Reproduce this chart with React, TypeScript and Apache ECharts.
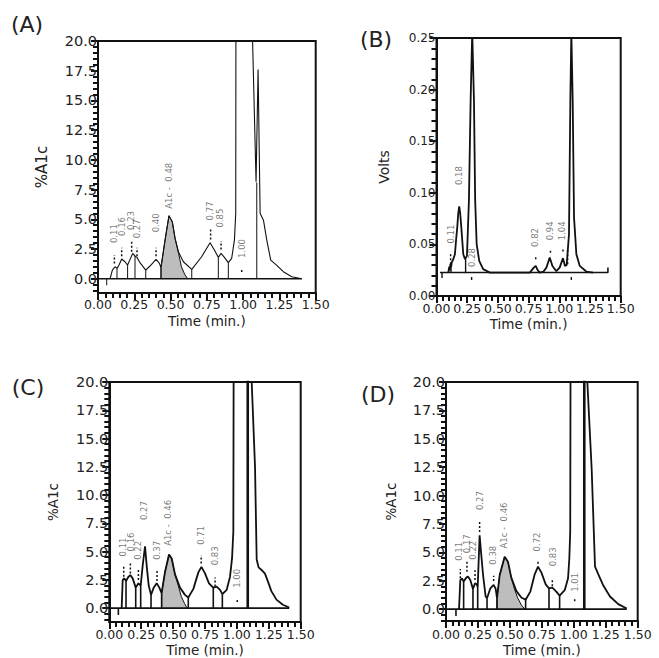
import React, { useEffect, useRef } from "react";
import * as echarts from "echarts";

const FONT = "DejaVu Sans";
const INK = "#111";
const LABEL_INK = "#555";

// ---------- axis ticks ----------
const X_TICKS = [0, 0.25, 0.5, 0.75, 1, 1.25, 1.5];
const PCT_TICKS = [0, 2.5, 5, 7.5, 10, 12.5, 15, 17.5, 20];
const PCT_MINOR = Array.from({ length: 43 }, (_, i) => Math.round((-1 + i * 0.5) * 10) / 10);
const VOLT_TICKS = [0, 0.05, 0.1, 0.15, 0.2, 0.25];
const VOLT_MINOR = Array.from({ length: 26 }, (_, i) => Math.round(i) / 100);

// ---------- Panel A (%A1c) ----------
const A_CURVE = [
  [0.083, 0], [0.099, 0.73], [0.117, 1.01], [0.131, 0.87], [0.145, 1.15], [0.163, 1.66], [0.186, 1.43],
  [0.204, 1.15], [0.221, 1.63], [0.239, 2.13], [0.255, 1.91], [0.268, 1.8], [0.289, 1.35], [0.329, 0.73],
  [0.358, 1.07], [0.4, 1.63], [0.423, 1.29], [0.434, 0.95], [0.462, 3.25], [0.489, 5.3], [0.512, 4.79],
  [0.531, 3.39], [0.554, 2.27], [0.588, 1.43], [0.646, 0.79], [0.714, 1.85], [0.772, 3.03], [0.802, 2.41],
  [0.829, 1.8], [0.848, 2.13], [0.871, 1.8], [0.898, 1.35], [0.921, 1.71], [0.94, 3.25], [0.949, 5.5],
  [0.951, 30], [1.045, 30], [1.089, 8.15], [1.103, 17.6], [1.107, 17.6], [1.117, 5.5], [1.14, 4.93],
  [1.163, 3.25], [1.19, 1.57], [1.23, 1.15], [1.277, 0.59], [1.335, 0.17], [1.404, 0],
];
const A_BASE = [[0, 0], [1.404, 0]];
const A_SHADE = [
  [0.434, 0], [0.434, 0.95], [0.462, 3.25], [0.489, 5.3], [0.512, 4.79], [0.531, 3.39], [0.554, 2.2],
  [0.575, 1.0], [0.598, 0.35], [0.618, 0],
];
const A_DROPS = [
  [0.06, 0, -0.55], [0.131, 0, 0.87], [0.204, 0, 1.15], [0.255, 0, 1.91], [0.329, 0, 0.73], [0.434, 0, 0.95],
  [0.646, 0, 0.79], [0.829, 0, 1.8], [0.898, 0, 1.35], [1.094, 0, 8.1],
];
const A_MARKS = [
  [0.113, 1.29, 1.99], [0.163, 1.9, 2.6], [0.232, 2.27, 3.17], [0.269, 1.9, 2.6], [0.4, 1.9, 2.6],
  [0.776, 3.31, 4.15], [0.848, 2.47, 3.17], [0.99, 0.56, 0.78],
];
const A_LABELS: [number, number, string][] = [
  [0.108, 3.8, "0.11"], [0.163, 4.4, "0.16"], [0.227, 4.9, "0.23"], [0.27, 4.2, "0.27"], [0.398, 4.7, "0.40"],
  [0.489, 7.82, "A1c -  0.48"], [0.772, 5.7, "0.77"], [0.843, 5.1, "0.85"], [0.994, 2.55, "1.00"],
];

// ---------- Panel B (Volts) ----------
const B_CURVE = [
  [0.096, 0.0227], [0.104, 0.0285], [0.108, 0.0245], [0.113, 0.031], [0.118, 0.0275], [0.125, 0.033],
  [0.135, 0.035], [0.15, 0.0405], [0.16, 0.055], [0.169, 0.0665], [0.177, 0.08], [0.185, 0.0869],
  [0.193, 0.08], [0.202, 0.0665], [0.218, 0.0405], [0.232, 0.0357], [0.248, 0.0389], [0.264, 0.0924],
  [0.278, 0.19], [0.291, 0.256], [0.305, 0.19], [0.315, 0.0924], [0.327, 0.0503], [0.348, 0.034],
  [0.38, 0.026], [0.435, 0.0227], [0.76, 0.0227], [0.792, 0.0275], [0.808, 0.0292], [0.824, 0.025],
  [0.841, 0.0227], [0.87, 0.0235], [0.895, 0.0275], [0.922, 0.0373], [0.944, 0.029], [0.976, 0.024],
  [1.003, 0.0275], [1.03, 0.0367], [1.046, 0.029], [1.06, 0.03], [1.079, 0.06], [1.09, 0.19],
  [1.098, 0.256], [1.109, 0.19], [1.12, 0.076], [1.139, 0.0405], [1.166, 0.0292], [1.22, 0.0237],
  [1.274, 0.0227],
];
const B_BASE = [[0.028, 0.0227], [1.396, 0.0227], [1.396, 0.0275]];
const B_DROPS = [
  [0.045, 0.0227, 0.0175], [0.118, 0.0227, 0.0275], [0.237, 0.0227, 0.036], [0.286, 0.0183, 0.0155],
  [1.098, 0.0183, 0.0155],
];
const B_MARKS = [
  [0.115, 0.0308, 0.0405], [0.808, 0.0357, 0.038], [0.928, 0.0418, 0.0444], [1.03, 0.0431, 0.0457],
  [1.068, 0.0308, 0.0444],
];
const B_LABELS: [number, number, string][] = [
  [0.118, 0.06, "0.11"], [0.185, 0.1167, "0.18"], [0.286, 0.0373, "0.28"], [0.806, 0.0567, "0.82"],
  [0.922, 0.0632, "0.94"], [1.022, 0.0632, "1.04"],
];

// ---------- Panel C (%A1c) ----------
const C_CURVE = [
  [0.097, 0], [0.105, 2.48], [0.117, 2.63], [0.131, 2.4], [0.149, 2.75], [0.165, 2.92], [0.183, 2.63],
  [0.207, 1.81], [0.228, 2.19], [0.246, 1.99], [0.262, 3.8], [0.28, 5.47], [0.295, 3.51], [0.309, 1.99],
  [0.327, 1.17], [0.348, 1.81], [0.371, 2.19], [0.392, 1.81], [0.41, 1.32], [0.437, 3.22], [0.468, 4.74],
  [0.489, 4.39], [0.515, 2.98], [0.554, 1.81], [0.593, 1.17], [0.619, 0.94], [0.659, 1.7], [0.698, 3.16],
  [0.722, 3.65], [0.75, 3.07], [0.781, 2.19], [0.815, 1.81], [0.841, 1.9], [0.868, 1.61], [0.886, 1.23],
  [0.92, 1.61], [0.946, 2.78], [0.962, 4.39], [0.972, 6.73], [0.976, 30], [1.1, 40], [1.116, 20],
  [1.142, 12.5], [1.155, 4.3], [1.17, 3.6], [1.2, 3.3], [1.22, 3.05], [1.245, 2.3], [1.27, 1.5],
  [1.31, 0.75], [1.36, 0.3], [1.41, 0.05],
];
const C_BASE = [[0, 0], [1.41, 0]];
const C_SHADE = [
  [0.41, 0], [0.41, 1.32], [0.437, 3.22], [0.468, 4.74], [0.489, 4.39], [0.515, 2.98], [0.54, 2.0],
  [0.565, 1.0], [0.59, 0.4], [0.61, 0],
];
const C_DROPS = [
  [0.071, 0, -0.6], [0.131, 0, 2.4], [0.207, 0, 1.81], [0.246, 0, 1.99], [0.327, 0, 1.17], [0.41, 0, 1.32],
  [0.619, 0, 0.94], [0.815, 0, 1.81], [0.886, 0, 1.23],
];
const C_THICK = [[1.085, 0, 25]];
const C_MARKS = [
  [0.113, 2.78, 3.65], [0.165, 3.07, 3.95], [0.228, 2.48, 3.45], [0.374, 2.4, 3.3], [0.72, 3.95, 4.68],
  [0.829, 1.9, 2.7], [1.003, 0.55, 0.75],
];
const C_LABELS: [number, number, string][] = [
  [0.11, 5.41, "0.11"], [0.168, 5.85, "0.16"], [0.227, 5.11, "0.22"], [0.272, 8.62, "0.27"],
  [0.371, 5.11, "0.37"], [0.462, 7.54, "A1c -  0.46"], [0.719, 6.43, "0.71"], [0.828, 4.62, "0.83"],
  [1.003, 2.63, "1.00"],
];

// ---------- Panel D (%A1c) ----------
const D_CURVE = [
  [0.102, 0], [0.112, 2.56], [0.125, 2.71], [0.138, 2.42], [0.159, 2.77], [0.172, 2.86], [0.19, 2.56],
  [0.211, 1.78], [0.227, 2.27], [0.24, 2.18], [0.248, 1.95], [0.263, 6.49], [0.274, 5.04], [0.29, 3.0],
  [0.31, 1.11], [0.321, 0.96], [0.347, 1.83], [0.373, 2.13], [0.389, 1.78], [0.399, 0.96], [0.42, 3.0],
  [0.459, 4.6], [0.485, 4.16], [0.511, 2.77], [0.55, 1.6], [0.589, 1.02], [0.623, 0.82], [0.66, 1.54],
  [0.694, 3.06], [0.72, 3.73], [0.746, 3.23], [0.78, 2.18], [0.806, 1.83], [0.832, 1.89], [0.863, 1.54],
  [0.889, 1.19], [0.929, 1.66], [0.955, 2.71], [0.965, 4.45], [0.972, 6.78], [0.976, 30], [1.09, 40],
  [1.106, 20], [1.14, 12.3], [1.166, 3.73], [1.192, 3.06], [1.231, 2.07], [1.283, 1.11], [1.348, 0.44],
  [1.414, 0.05],
];
const D_BASE = [[0, 0], [1.414, 0]];
const D_SHADE = [
  [0.399, 0], [0.399, 0.96], [0.42, 3.0], [0.459, 4.6], [0.485, 4.16], [0.511, 2.77], [0.535, 1.8],
  [0.56, 1.0], [0.59, 0.35], [0.617, 0],
];
const D_DROPS = [
  [0.078, 0, -0.6], [0.138, 0, 2.42], [0.211, 0, 1.78], [0.248, 0, 1.95], [0.321, 0, 0.96], [0.399, 0, 0.96],
  [0.623, 0, 0.82], [0.806, 0, 1.83], [0.889, 0, 1.19],
];
const D_THICK = [[1.082, 0, 25]];
const D_MARKS = [
  [0.112, 2.71, 3.52], [0.164, 3.29, 4.17], [0.227, 2.56, 3.43], [0.263, 6.78, 7.66], [0.373, 2.48, 2.94],
  [0.72, 4.0, 4.3], [0.832, 2.0, 2.71], [1.007, 0.7, 0.9],
];
const D_LABELS: [number, number, string][] = [
  [0.102, 5.09, "0.11"], [0.162, 5.76, "0.17"], [0.214, 5.18, "0.22"], [0.266, 9.55, "0.27"],
  [0.37, 4.74, "0.38"], [0.454, 7.36, "A1c -  0.46"], [0.714, 5.91, "0.72"], [0.835, 4.6, "0.83"],
  [1.009, 2.36, "1.01"],
];

type Panel = {
  letter: string;
  letterPos: [number, number];
  grid: { left: number; top: number; width: number; height: number };
  yMin: number;
  yMax: number;
  yTicks: number[];
  yMinor: number[];
  yDec: number;
  yLabelSize: number;
  yName: string;
  yNameSize: number;
  yNameGap: number;
  xNameGap: number;
  xLabelMargin: number;
  curve: number[][];
  base: number[][];
  shade?: number[][];
  drops: number[][];
  thick?: number[][];
  marks: number[][];
  labels: [number, number, string][];
  curveW: number;
  dropW: number;
};

const PANELS: Panel[] = [
  {
    letter: "(A)", letterPos: [27, 24],
    grid: { left: 98, top: 41, width: 217.7, height: 252 },
    yMin: -1.2, yMax: 20, yTicks: PCT_TICKS, yMinor: PCT_MINOR, yDec: 1, yLabelSize: 14.5,
    yName: "%A1c", yNameSize: 15, yNameGap: 49, xNameGap: 21, xLabelMargin: 5,
    curve: A_CURVE, base: A_BASE, shade: A_SHADE, drops: A_DROPS, marks: A_MARKS, labels: A_LABELS,
    curveW: 1.1, dropW: 1,
  },
  {
    letter: "(B)", letterPos: [376, 39],
    grid: { left: 436.5, top: 38, width: 184.2, height: 258 },
    yMin: 0, yMax: 0.25, yTicks: VOLT_TICKS, yMinor: VOLT_MINOR, yDec: 2, yLabelSize: 12,
    yName: "Volts", yNameSize: 14, yNameGap: 46, xNameGap: 21, xLabelMargin: 6,
    curve: B_CURVE, base: B_BASE, drops: B_DROPS, marks: B_MARKS, labels: B_LABELS,
    curveW: 1.8, dropW: 1.4,
  },
  {
    letter: "(C)", letterPos: [28, 387],
    grid: { left: 109.3, top: 382, width: 191.4, height: 242 },
    yMin: -1.23, yMax: 20, yTicks: PCT_TICKS, yMinor: PCT_MINOR, yDec: 1, yLabelSize: 14.5,
    yName: "%A1c", yNameSize: 13.5, yNameGap: 49, xNameGap: 21, xLabelMargin: 6,
    curve: C_CURVE, base: C_BASE, shade: C_SHADE, drops: C_DROPS, thick: C_THICK, marks: C_MARKS, labels: C_LABELS,
    curveW: 1.8, dropW: 1.6,
  },
  {
    letter: "(D)", letterPos: [378, 394],
    grid: { left: 446, top: 382, width: 191.7, height: 241 },
    yMin: -1.05, yMax: 20, yTicks: PCT_TICKS, yMinor: PCT_MINOR, yDec: 1, yLabelSize: 14.5,
    yName: "%A1c", yNameSize: 13.5, yNameGap: 48, xNameGap: 22, xLabelMargin: 7,
    curve: D_CURVE, base: D_BASE, shade: D_SHADE, drops: D_DROPS, thick: D_THICK, marks: D_MARKS, labels: D_LABELS,
    curveW: 1.8, dropW: 1.6,
  },
];

const segs = (list: number[][]) => {
  const out: any[] = [];
  list.forEach(([t, a, b]) => {
    out.push([t, a], [t, b], ["-", "-"]);
  });
  return out;
};

function buildOption() {
  const grid = PANELS.map((p) => ({
    ...p.grid,
    show: true,
    borderColor: INK,
    borderWidth: 2,
    backgroundColor: "transparent",
    containLabel: false,
  }));

  const xAxis = PANELS.map((p, i) => ({
    type: "value",
    gridIndex: i,
    min: 0,
    max: 1.5,
    interval: 0.25,
    axisLine: { show: true, onZero: false, lineStyle: { color: INK, width: 2 } },
    axisTick: { show: true, length: 7, lineStyle: { color: INK, width: 2 } },
    minorTick: { show: true, splitNumber: 5, length: 5, lineStyle: { color: INK, width: 2 } },
    splitLine: { show: false },
    minorSplitLine: { show: false },
    axisLabel: {
      customValues: X_TICKS,
      formatter: (v: number) => v.toFixed(2),
      fontSize: 12.5,
      fontFamily: FONT,
      color: "#222",
      margin: p.xLabelMargin,
      showMinLabel: true,
      showMaxLabel: true,
    },
    name: "Time (min.)",
    nameLocation: "middle",
    nameGap: p.xNameGap,
    nameTextStyle: { fontSize: 13.5, fontFamily: FONT, color: "#222" },
  }));

  const yAxis: any[] = [];
  PANELS.forEach((p, i) => {
    yAxis.push({
      type: "value",
      gridIndex: i,
      position: "left",
      min: p.yMin,
      max: p.yMax,
      axisLine: { show: true, onZero: false, lineStyle: { color: INK, width: 2 } },
      axisTick: { show: true, length: 7, customValues: p.yTicks, lineStyle: { color: INK, width: 2 } },
      axisLabel: {
        customValues: p.yTicks,
        formatter: (v: number) => v.toFixed(p.yDec),
        fontSize: p.yLabelSize,
        fontFamily: FONT,
        color: "#222",
        margin: 1,
      },
      splitLine: { show: false },
      name: p.yName,
      nameLocation: "middle",
      nameGap: p.yNameGap,
      nameTextStyle: { fontSize: p.yNameSize, fontFamily: FONT, color: "#222" },
    });
    yAxis.push({
      type: "value",
      gridIndex: i,
      position: "left",
      min: p.yMin,
      max: p.yMax,
      axisLine: { show: true, onZero: false, lineStyle: { color: INK, width: 2 } },
      axisTick: { show: true, length: 5, customValues: p.yMinor, lineStyle: { color: INK, width: 2 } },
      axisLabel: { show: true, customValues: p.yMinor, formatter: () => "" },
      splitLine: { show: false },
    });
  });

  const series: any[] = [];
  PANELS.forEach((p, i) => {
    const common = { xAxisIndex: i, yAxisIndex: 2 * i, silent: true, symbol: "none", animation: false };
    if (p.shade) {
      series.push({
        ...common,
        type: "line",
        data: p.shade,
        lineStyle: { color: INK, width: 1 },
        areaStyle: { color: "#bdbdbd", opacity: 1 },
      });
    }
    series.push({ ...common, type: "line", data: p.base, lineStyle: { color: INK, width: 1.6 } });
    series.push({ ...common, type: "line", data: p.curve, lineStyle: { color: INK, width: p.curveW } });
    series.push({
      ...common,
      type: "line",
      data: segs(p.drops),
      connectNulls: false,
      lineStyle: { color: INK, width: p.dropW },
    });
    if (p.thick) {
      series.push({
        ...common,
        type: "line",
        data: segs(p.thick),
        connectNulls: false,
        lineStyle: { color: INK, width: 2.6 },
      });
    }
    series.push({
      ...common,
      type: "line",
      data: segs(p.marks),
      connectNulls: false,
      lineStyle: { color: INK, width: 1.5, type: [2, 2] },
    });
    series.push({
      xAxisIndex: i,
      yAxisIndex: 2 * i,
      type: "scatter",
      silent: true,
      symbolSize: 1,
      itemStyle: { color: "rgba(0,0,0,0)" },
      data: p.labels.map(([t, v, s]) => ({ value: [t, v], name: s })),
      label: {
        show: true,
        formatter: "{b}",
        position: "inside",
        rotate: 90,
        fontSize: 8.5,
        fontFamily: FONT,
        color: LABEL_INK,
      },
    });
  });

  const graphic = PANELS.map((p) => ({
    type: "text",
    x: p.letterPos[0],
    y: p.letterPos[1],
    style: {
      text: p.letter,
      fontSize: 22,
      fontFamily: FONT,
      fill: "#222",
      textAlign: "center",
      textVerticalAlign: "middle",
    },
  }));

  return {
    animation: false,
    backgroundColor: "#fff",
    grid,
    xAxis,
    yAxis,
    series,
    graphic,
  };
}

export default function App() {
  const ref = useRef<HTMLDivElement>(null);
  useEffect(() => {
    if (!ref.current) return;
    const chart = echarts.init(ref.current, undefined, { renderer: "svg" });
    chart.setOption(buildOption() as any);
    return () => chart.dispose();
  }, []);
  return (
    <div
      ref={ref}
      style={{ position: "absolute", left: 0, top: 0, width: 659, height: 658, background: "#fff" }}
    />
  );
}
